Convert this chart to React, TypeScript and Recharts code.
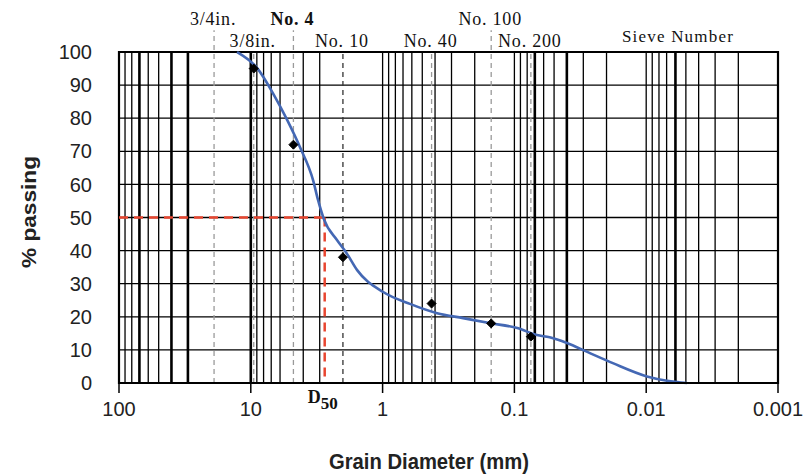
import { ComposedChart, Line, Scatter, XAxis, YAxis, CartesianGrid, ReferenceLine, ReferenceArea } from "recharts"

// blue gradation curve (diameter in mm, % passing)
const curveDiameter = [12.7, 8.97, 6.8, 5.3, 4.24, 3.37, 3.09, 2.79, 2.22, 1.88, 1.56, 0.99, 0.62, 0.386, 0.245, 0.155, 0.095, 0.0675, 0.054, 0.04, 0.028, 0.0179, 0.00987, 0.00695, 0.0049]
const curvePassing = [100, 95.2, 87.6, 79.5, 71.3, 61.3, 55.3, 49.5, 43.2, 39.3, 34.1, 27.5, 23.9, 21.1, 19.6, 18.1, 16.6, 14.5, 13.8, 12.1, 9.4, 6.0, 2.0, 0.7, 0]

// measured sieve results
const sampleDiameter = [9.5, 4.75, 2.0, 0.425, 0.15, 0.075]
const samplePassing = [95, 72, 38, 24, 18, 14]

// sieve marker lines
const sieveNames = ["3/4in.", "3/8in.", "No. 4", "No. 10", "No. 40", "No. 100", "No. 200"]
const sieveSizes = [19, 9.5, 4.75, 2.0, 0.425, 0.15, 0.075]
const sieveUpper = [true, false, true, false, false, true, false]

const d50 = 2.75

const xTicks = [100, 10, 1, 0.1, 0.01, 0.001]
const xTickLabels = ["100", "10", "1", "0.1", "0.01", "0.001"]
const yTicks = [0, 10, 20, 30, 40, 50, 60, 70, 80, 90, 100]

// log grid
const gridDecades = [1, 0, -1, -2, -3]
const gridSteps = [1, 2, 3, 4, 5, 6, 7, 8, 9]
const gridSkipped = [20, 5, 2]
const gridThick = [70, 40, 30, 10, 0.07, 0.04, 0.006]

const same = (a: number, b: number) => Math.abs(a - b) / b < 1e-6

const gridLines = gridDecades
  .flatMap((e) => gridSteps.map((m) => Number((m * Math.pow(10, e)).toPrecision(6))))
  .filter((v) => v < 100 && v > 0.001 && !gridSkipped.some((s) => same(v, s)))

const curveData = curveDiameter.map((d, i) => ({ d, p: curvePassing[i] }))
const sampleData = sampleDiameter.map((d, i) => ({ d, p: samplePassing[i] }))

const sans = "'Liberation Sans', Arial, sans-serif"
const serif = "'Liberation Serif', 'Times New Roman', serif"

const SampleMark = (props: any) => {
  const { cx, cy } = props
  const r = 4.5
  return <path d={`M${cx},${cy - r} L${cx + r},${cy} L${cx},${cy + r} L${cx - r},${cy} Z`} fill="#000" stroke="#000" strokeWidth={1} />
}

export default function App() {
  return (
    <div style={{ position: "absolute", left: 0, top: 0, width: 812, height: 474, background: "#fff" }}>
      <ComposedChart width={812} height={474} margin={{ top: 52, right: 34, left: 0, bottom: 0 }}>
        <CartesianGrid vertical={false} stroke="#000" strokeWidth={1.3} />
        <XAxis
          type="number"
          dataKey="d"
          scale="log"
          domain={[0.001, 100]}
          reversed
          allowDataOverflow
          ticks={xTicks}
          interval={0}
          tickFormatter={(v: number) => xTickLabels[xTicks.findIndex((t) => same(v, t))] ?? String(v)}
          tick={{ fontSize: 20, fill: "#222", fontFamily: sans }}
          tickSize={10}
          tickMargin={9}
          tickLine={{ stroke: "#000", strokeWidth: 1.5 }}
          axisLine={{ stroke: "#000", strokeWidth: 2 }}
          height={91}
          label={() => (
            <text
              x={429}
              y={469}
              textAnchor="middle"
              fontFamily={sans}
              fontWeight="bold"
              fontSize={22}
              fill="#222"
              textLength={200}
              lengthAdjust="spacingAndGlyphs"
            >
              Grain Diameter (mm)
            </text>
          )}
        />
        <YAxis
          type="number"
          dataKey="p"
          domain={[0, 100]}
          ticks={yTicks}
          interval={0}
          tick={{ fontSize: 20, fill: "#222", fontFamily: sans }}
          tickSize={0}
          tickLine={false}
          tickMargin={27}
          axisLine={false}
          width={119}
          label={() => (
            <text
              x={0}
              y={0}
              transform="translate(36 212) rotate(-90)"
              textAnchor="middle"
              fontFamily={sans}
              fontWeight="bold"
              fontSize={20}
              fill="#222"
              textLength={112}
              lengthAdjust="spacingAndGlyphs"
            >
              % passing
            </text>
          )}
        />

        {gridLines.map((v) => (
          <ReferenceLine
            key={"g" + v}
            x={v}
            stroke="#000"
            strokeWidth={gridThick.some((t) => same(v, t)) ? 2.6 : 1.3}
          />
        ))}

        {sieveSizes.map((s, i) => (
          <ReferenceLine
            key={"s" + i}
            segment={[
              { x: s, y: 0 },
              { x: s, y: sieveUpper[i] ? 106.6 : 100 },
            ]}
            ifOverflow="visible"
            stroke={sieveNames[i] === "No. 10" ? "#333" : "#9a9a9a"}
            strokeWidth={1.3}
            strokeDasharray="5 4"
            label={(p: any) => {
              const vb = p.viewBox
              return (
                <text
                  x={vb.x + (vb.width || 0) / 2 - 1}
                  y={vb.y - 5}
                  textAnchor="middle"
                  fontFamily={serif}
                  fontSize={18}
                  fontWeight={sieveNames[i] === "No. 4" ? "bold" : "normal"}
                  letterSpacing={0.8}
                  fill="#111"
                >
                  {sieveNames[i]}
                </text>
              )
            }}
          />
        ))}

        <ReferenceArea x1={100} x2={0.001} y1={0} y2={100} fill="none" stroke="#000" strokeWidth={2.2} ifOverflow="visible" />

        <ReferenceLine
          segment={[
            { x: 100, y: 50 },
            { x: d50, y: 50 },
          ]}
          stroke="#e8452f"
          strokeWidth={2.5}
          strokeDasharray="9 6"
        />
        <ReferenceLine
          segment={[
            { x: d50, y: 50 },
            { x: d50, y: 0 },
          ]}
          stroke="#e8452f"
          strokeWidth={2.5}
          strokeDasharray="9 6"
          label={(p: any) => {
            const vb = p.viewBox
            return (
              <text x={vb.x - 17} y={vb.y + vb.height + 20} fontFamily={serif} fontWeight="bold" fill="#111">
                <tspan fontSize={18}>D</tspan>
                <tspan fontSize={17} dy={6}>
                  50
                </tspan>
              </text>
            )
          }}
        />

        <Line
          data={curveData}
          dataKey="p"
          type="monotone"
          stroke="#4468b4"
          strokeWidth={2.6}
          dot={false}
          isAnimationActive={false}
        />
        <Scatter data={sampleData} dataKey="p" shape={SampleMark} isAnimationActive={false} />

        <text x={678} y={42} textAnchor="middle" fontFamily={serif} fontSize={17} letterSpacing={1.2} fill="#111">
          Sieve Number
        </text>
      </ComposedChart>
    </div>
  )
}
